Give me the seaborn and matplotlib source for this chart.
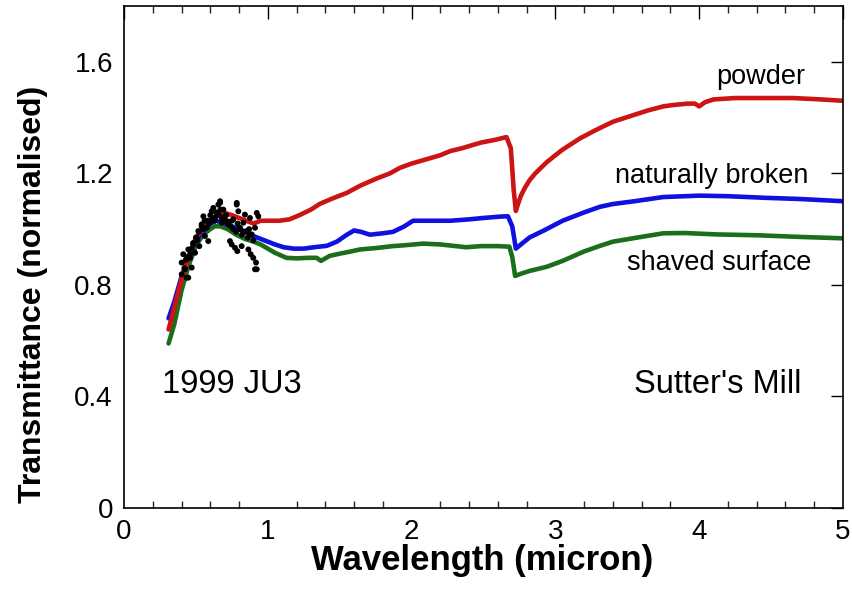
import numpy as np
import pandas as pd
import matplotlib
matplotlib.use("Agg")
import matplotlib.pyplot as plt
import seaborn as sns
from matplotlib.ticker import MultipleLocator

# spectra (wavelength in micron, normalised transmittance)
powder_w = [0.31, 0.35, 0.40, 0.45, 0.50, 0.55, 0.60, 0.65, 0.69, 0.75, 0.80, 0.85, 0.90,
            0.95, 1.00, 1.08, 1.15, 1.22, 1.30, 1.36, 1.45, 1.55, 1.64, 1.75, 1.85, 1.92,
            2.00, 2.10, 2.20, 2.27, 2.35, 2.48, 2.58, 2.66, 2.69, 2.71, 2.725, 2.74, 2.76,
            2.79, 2.82, 2.86, 2.90, 2.94, 3.00, 3.05, 3.17, 3.28, 3.40, 3.52, 3.64, 3.75,
            3.82, 3.92, 3.97, 4.00, 4.04, 4.10, 4.25, 4.45, 4.65, 4.85, 5.00]
powder_t = [0.64, 0.72, 0.82, 0.90, 0.97, 1.00, 1.03, 1.05, 1.06, 1.05, 1.04, 1.03, 1.02,
            1.03, 1.03, 1.03, 1.035, 1.05, 1.07, 1.09, 1.11, 1.13, 1.155, 1.18, 1.20, 1.22,
            1.235, 1.25, 1.265, 1.28, 1.29, 1.31, 1.32, 1.33, 1.29, 1.14, 1.065, 1.09, 1.12,
            1.15, 1.175, 1.20, 1.22, 1.24, 1.265, 1.285, 1.325, 1.355, 1.385, 1.405, 1.425, 1.44,
            1.445, 1.45, 1.45, 1.44, 1.455, 1.465, 1.47, 1.47, 1.47, 1.465, 1.46]

broken_w = [0.31, 0.35, 0.40, 0.45, 0.50, 0.55, 0.60, 0.64, 0.70, 0.75, 0.80, 0.85, 0.90,
            0.95, 1.00, 1.05, 1.11, 1.18, 1.25, 1.32, 1.41, 1.48, 1.55, 1.60, 1.65, 1.71,
            1.80, 1.87, 1.95, 2.01, 2.10, 2.27, 2.40, 2.50, 2.62, 2.67, 2.70, 2.725, 2.76,
            2.82, 2.92, 3.05, 3.20, 3.31, 3.40, 3.55, 3.75, 3.90, 4.00, 4.20, 4.47, 4.70,
            4.85, 5.00]
broken_t = [0.68, 0.74, 0.83, 0.90, 0.96, 0.99, 1.02, 1.03, 1.02, 1.01, 1.00, 0.99, 0.975,
            0.965, 0.955, 0.945, 0.935, 0.93, 0.93, 0.935, 0.94, 0.955, 0.98, 0.995, 0.99, 0.98,
            0.985, 0.99, 1.01, 1.03, 1.03, 1.03, 1.035, 1.04, 1.045, 1.046, 1.01, 0.93, 0.945,
            0.97, 0.995, 1.03, 1.06, 1.08, 1.09, 1.10, 1.115, 1.118, 1.12, 1.118, 1.112, 1.108,
            1.104, 1.10]

shaved_w = [0.31, 0.35, 0.40, 0.45, 0.50, 0.55, 0.60, 0.63, 0.67, 0.72, 0.78, 0.84, 0.90,
            0.95, 1.00, 1.05, 1.13, 1.20, 1.28, 1.34, 1.37, 1.40, 1.43, 1.50, 1.58, 1.64,
            1.75, 1.87, 1.95, 2.08, 2.20, 2.38, 2.48, 2.60, 2.68, 2.70, 2.72, 2.76, 2.82,
            2.94, 3.05, 3.20, 3.31, 3.40, 3.55, 3.75, 3.90, 4.12, 4.40, 4.70, 5.00]
shaved_t = [0.59, 0.66, 0.78, 0.87, 0.94, 0.98, 1.00, 1.01, 1.01, 1.00, 0.98, 0.965, 0.955,
            0.945, 0.93, 0.915, 0.897, 0.895, 0.897, 0.897, 0.886, 0.895, 0.904, 0.912, 0.92, 0.927,
            0.932, 0.939, 0.942, 0.948, 0.945, 0.935, 0.939, 0.939, 0.937, 0.90, 0.832, 0.84, 0.85,
            0.865, 0.886, 0.92, 0.94, 0.955, 0.968, 0.985, 0.986, 0.981, 0.978, 0.972, 0.967]

# 1999 JU3 reflectance points
ju3_w = [0.401, 0.401, 0.412, 0.424, 0.436, 0.447, 0.447, 0.459, 0.471, 0.482, 0.494,
         0.505, 0.517, 0.524, 0.540, 0.552, 0.563, 0.575, 0.586, 0.598, 0.610, 0.621,
         0.633, 0.645, 0.656, 0.668, 0.668, 0.679, 0.691, 0.702, 0.714, 0.725, 0.737,
         0.749, 0.760, 0.772, 0.784, 0.784, 0.788, 0.795, 0.807, 0.818, 0.830, 0.841,
         0.853, 0.865, 0.876, 0.881, 0.888, 0.899, 0.911, 0.911, 0.918, 0.923, 0.923,
         0.934, 0.42, 0.44, 0.46, 0.48, 0.50, 0.52, 0.54, 0.56, 0.58, 0.60, 0.62, 0.64,
         0.66, 0.68, 0.70, 0.72, 0.74, 0.76, 0.78, 0.80, 0.82, 0.84, 0.86, 0.88, 0.90,
         0.43, 0.47, 0.51, 0.55, 0.59, 0.63, 0.67, 0.71, 0.75, 0.79, 0.83, 0.87]
ju3_t = [0.880, 0.838, 0.910, 0.856, 0.826, 0.927, 0.826, 0.897, 0.862, 0.945, 0.915,
         0.969, 0.993, 0.939, 1.017, 1.046, 0.975, 1.005, 0.957, 1.029, 1.064, 1.076,
         1.040, 1.058, 1.088, 1.100, 1.094, 1.023, 1.070, 1.046, 1.029, 1.017, 0.957,
         0.945, 1.035, 0.933, 1.088, 1.094, 0.921, 1.064, 1.005, 0.939, 1.023, 1.052,
         0.993, 0.927, 1.040, 0.910, 0.981, 0.897, 1.005, 0.856, 0.880, 1.058, 0.856,
         1.046, 0.86, 0.90, 0.91, 0.95, 0.97, 0.99, 1.01, 1.03, 1.03, 1.05, 1.04, 1.06,
         1.05, 1.04, 1.03, 1.02, 1.01, 1.00, 0.99, 1.00, 0.98, 0.99, 0.97, 0.98, 0.96,
         0.89, 0.93, 0.96, 1.00, 1.02, 1.03, 1.07, 1.05, 1.03, 1.02, 0.99, 1.00]

red = "#cc1414"
blue = "#1010e0"
green = "#1c6e1c"

sns.set_style("white")
plt.rcParams["font.family"] = ["Liberation Sans", "DejaVu Sans"]
plt.rcParams["text.color"] = "black"
plt.rcParams["axes.labelcolor"] = "black"

fig = plt.figure(figsize=(8.52, 5.98), dpi=100)
ax = fig.add_axes([124 / 852, 1 - 508 / 598, (843 - 124) / 852, (508 - 6) / 598])

for w, t, c in [(shaved_w, shaved_t, green), (broken_w, broken_t, blue), (powder_w, powder_t, red)]:
    df = pd.DataFrame({"w": w, "t": t})
    sns.lineplot(data=df, x="w", y="t", color=c, lw=3.3, ax=ax, sort=False, estimator=None)

ju3 = pd.DataFrame({"w": ju3_w, "t": ju3_t})
sns.scatterplot(data=ju3, x="w", y="t", color="black", s=18, edgecolor="none", ax=ax, zorder=5)

ax.set_xlim(0, 5)
ax.set_ylim(0, 1.8)
ax.set_xticks([0, 1, 2, 3, 4, 5])
ax.set_yticks([0, 0.4, 0.8, 1.2, 1.6])
ax.set_yticklabels(["0", "0.4", "0.8", "1.2", "1.6"])
ax.xaxis.set_minor_locator(MultipleLocator(0.2))
ax.tick_params(which="major", direction="in", length=9, width=1, top=True, right=True,
               labelsize=20, pad=8, colors="black")
ax.tick_params(which="minor", direction="in", length=5, width=1, top=True, bottom=True)
ax.tick_params(axis="y", which="minor", left=False, right=False)
for s in ax.spines.values():
    s.set_linewidth(1.2)
    s.set_color("black")

ax.set_xlabel("Wavelength (micron)", fontsize=25, fontweight="bold")
ax.xaxis.set_label_coords(0.498, -0.072)
ax.set_ylabel("Transmittance (normalised)", fontsize=23, fontweight="bold")
ax.yaxis.set_label_coords(-0.106, 0.426)

ax.text(4.43, 1.546, "powder", fontsize=19.5, ha="center", va="center")
ax.text(4.09, 1.19, "naturally broken", fontsize=19.5, ha="center", va="center")
ax.text(4.14, 0.88, "shaved surface", fontsize=19.5, ha="center", va="center")
ax.text(0.75, 0.443, "1999 JU3", fontsize=23.5, ha="center", va="center")
ax.text(4.13, 0.443, "Sutter's Mill", fontsize=23.5, ha="center", va="center")

fig.savefig("out.png", dpi=100)
